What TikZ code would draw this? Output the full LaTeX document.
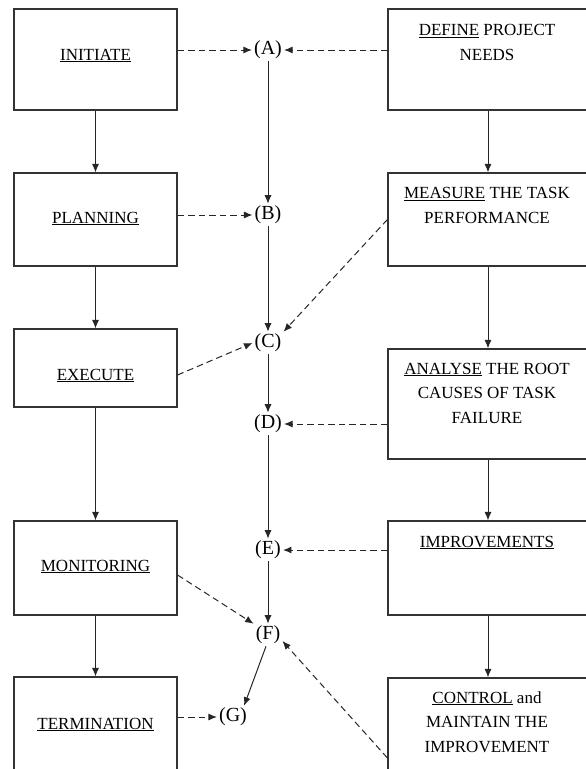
\documentclass[tikz,border=0pt]{standalone}
\usepackage{fontspec}
\setmainfont{Liberation Serif}
\usetikzlibrary{arrows.meta}
\begin{document}
\begin{tikzpicture}[x=1pt,y=-1pt,
  box/.style={draw=black!80, line width=1.1pt, inner sep=0pt},
  lab/.style={font=\fontsize{17}{24.5}\selectfont, align=center, inner sep=0pt, anchor=base},
  letr/.style={font=\fontsize{20}{22}\selectfont, inner sep=2pt},
  sarr/.style={draw=black!85, line width=1pt, -{Latex[length=8.5pt,width=7pt]}},
  darr/.style={sarr, dash pattern=on 6.5pt off 4pt}]
\useasboundingbox (0,0) rectangle (586,769);
\clip (0,0) rectangle (586,769);
% left boxes
\node[box, minimum width=163pt, minimum height=101pt] (init) at (95.5,59.5) {};
\node[box, minimum width=163pt, minimum height=93pt] (plan) at (95.5,219.5) {};
\node[box, minimum width=163pt, minimum height=78pt] (exec) at (95.5,368) {};
\node[box, minimum width=163pt, minimum height=94pt] (mon) at (95.5,568) {};
\node[box, minimum width=163pt, minimum height=123pt] (term) at (95.5,738.5) {};
% right boxes
\node[box, minimum width=212pt, minimum height=101pt] (def) at (494,59.5) {};
\node[box, minimum width=212pt, minimum height=93pt] (meas) at (494,219.5) {};
\node[box, minimum width=212pt, minimum height=110pt] (ana) at (494,404) {};
\node[box, minimum width=212pt, minimum height=94pt] (imp) at (494,568) {};
\node[box, minimum width=212pt, minimum height=122pt] (ctrl) at (494,739) {};
% labels (base = baseline of the last line)
\node[lab] (tinit) at (95.5,60) {\underline{INITIATE}};
\node[lab] (tplan) at (95.5,223) {\underline{PLANNING}};
\node[lab] (texec) at (95.5,380) {\underline{EXECUTE}};
\node[lab] (tmon) at (95.5,571) {\underline{MONITORING}};
\node[lab] (tterm) at (95.5,729) {\underline{TERMINATION}};
\node[lab] (tdef) at (487,60) {\underline{DEFINE} PROJECT\\NEEDS};
\node[lab] (tmeas) at (487,223) {\underline{MEASURE} THE TASK\\PERFORMANCE};
\node[lab] (tana) at (487,423) {\underline{ANALYSE} THE ROOT\\CAUSES OF TASK\\FAILURE};
\node[lab] (timp) at (487,547) {\underline{IMPROVEMENTS}};
\node[lab] (tctrl) at (487,752) {\underline{CONTROL} and\\MAINTAIN THE\\IMPROVEMENT};
% letters
\node[letr] (A) at (268,50) {(A)};
\node[letr] (B) at (268,215) {(B)};
\node[letr] (C) at (268,343) {(C)};
\node[letr] (D) at (268,424) {(D)};
\node[letr] (E) at (268,550) {(E)};
\node[letr] (F) at (268,635) {(F)};
\node[letr] (G) at (233,717) {(G)};
% left vertical flow
\draw[sarr] (init.south) -- (plan.north);
\draw[sarr] (plan.south) -- (exec.north);
\draw[sarr] (exec.south) -- (mon.north);
\draw[sarr] (mon.south) -- (term.north);
% right vertical flow
\draw[sarr] ([xshift=-6pt]def.south) -- ([xshift=-6pt]meas.north);
\draw[sarr] ([xshift=-6pt]meas.south) -- ([xshift=-6pt]ana.north);
\draw[sarr] ([xshift=-6pt]ana.south) -- ([xshift=-6pt]imp.north);
\draw[sarr] ([xshift=-6pt]imp.south) -- ([xshift=-6pt]ctrl.north);
% middle flow
\draw[sarr] (A.south) -- (B.north);
\draw[sarr] (B.south) -- (C.north);
\draw[sarr] (C.south) -- (D.north);
\draw[sarr] (D.south) -- (E.north);
\draw[sarr] (E.south) -- (F.north);
\draw[sarr] ([xshift=-2pt]F.south) -- ([xshift=-5pt]G.north east);
% dashed links
\draw[darr] (init.east |- A) -- (A.west);
\draw[darr] (def.west |- A) -- (A.east);
\draw[darr] (plan.east |- B) -- (B.west);
\draw[darr] (meas.west) -- (C.north east);
\draw[darr] ([yshift=-7pt]exec.east) -- (C.west);
\draw[darr] (ana.west |- D) -- (D.east);
\draw[darr] (imp.west |- E) -- (E.east);
\draw[darr] ([yshift=-7pt]mon.east) -- (F.north west);
\draw[darr] ([yshift=-19pt]ctrl.west) -- ([yshift=-6pt]F.east);
\draw[darr] (term.east |- G) -- (G.west);
\end{tikzpicture}
\end{document}
